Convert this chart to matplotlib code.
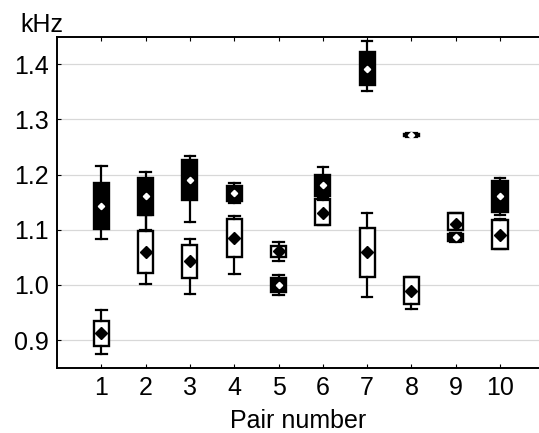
import matplotlib
matplotlib.use("Agg")
import matplotlib.pyplot as plt

plt.rcParams['font.family'] = ['Liberation Sans', 'DejaVu Sans']

pairs = [1, 2, 3, 4, 5, 6, 7, 8, 9, 10]

# filled (black) boxes: whisker low, q1, q3, whisker high, mean
dark_lo = [1.084, 1.100, 1.114, 1.148, 0.981, 1.154, 1.352, 1.269, 1.078, 1.126]
dark_q1 = [1.102, 1.127, 1.154, 1.152, 0.987, 1.161, 1.362, 1.270, 1.079, 1.132]
dark_q3 = [1.184, 1.193, 1.226, 1.180, 1.012, 1.200, 1.423, 1.274, 1.093, 1.188]
dark_hi = [1.215, 1.205, 1.234, 1.185, 1.018, 1.214, 1.443, 1.275, 1.094, 1.194]
dark_mean = [1.143, 1.161, 1.190, 1.167, 0.999, 1.181, 1.391, 1.272, 1.086, 1.161]

# open (white) boxes
open_lo = [0.874, 1.001, 0.983, 1.019, 1.044, 1.108, 0.979, 0.957, 1.099, 1.066]
open_q1 = [0.889, 1.022, 1.013, 1.051, 1.051, 1.108, 1.014, 0.966, 1.099, 1.066]
open_q3 = [0.935, 1.098, 1.073, 1.119, 1.071, 1.155, 1.103, 1.014, 1.130, 1.117]
open_hi = [0.954, 1.127, 1.083, 1.125, 1.077, 1.160, 1.131, 1.014, 1.131, 1.120]
open_mean = [0.912, 1.059, 1.044, 1.085, 1.062, 1.131, 1.059, 0.989, 1.111, 1.091]

yticks = [0.9, 1.0, 1.1, 1.2, 1.3, 1.4]


def make_stats(lo, q1, q3, hi, mean):
    stats = []
    for i in range(len(lo)):
        stats.append(dict(whislo=lo[i], q1=q1[i], q3=q3[i], whishi=hi[i],
                          med=mean[i], mean=mean[i], fliers=[]))
    return stats


fig = plt.figure(figsize=(5.39, 4.33), dpi=100)
ax = fig.add_axes([0.1058, 0.1508, 0.8942, 0.7645])

for y in yticks:
    ax.axhline(y, color='#d8d8d8', lw=0.9, zorder=0)

line = dict(color='black', linewidth=1.6)

ax.bxp(make_stats(open_lo, open_q1, open_q3, open_hi, open_mean),
       positions=pairs, widths=0.34, capwidths=0.24, patch_artist=True,
       showmeans=True,
       boxprops=dict(facecolor='white', edgecolor='black', linewidth=1.7),
       whiskerprops=line, capprops=line, medianprops=dict(linewidth=0),
       meanprops=dict(marker='D', markerfacecolor='black',
                      markeredgecolor='black', markersize=6.3),
       zorder=3)

ax.bxp(make_stats(dark_lo, dark_q1, dark_q3, dark_hi, dark_mean),
       positions=pairs, widths=0.34, capwidths=0.24, patch_artist=True,
       showmeans=True,
       boxprops=dict(facecolor='black', edgecolor='black', linewidth=1.7),
       whiskerprops=line, capprops=line, medianprops=dict(linewidth=0),
       meanprops=dict(marker='D', markerfacecolor='white',
                      markeredgecolor='white', markersize=3.2),
       zorder=4)

ax.set_xlim(0, 10.88)
ax.set_ylim(0.85, 1.45)
ax.set_xticks(pairs)
ax.set_xticklabels([str(p) for p in pairs])
ax.set_yticks(yticks)
ax.set_yticklabels(['0.9', '1.0', '1.1', '1.2', '1.3', '1.4'])
ax.tick_params(direction='in', length=3, width=0.8, labelsize=18, pad=6,
               top=True, bottom=True, left=True, right=False)
ax.spines['right'].set_visible(False)
for s in ['left', 'top', 'bottom']:
    ax.spines[s].set_linewidth(1.4)

ax.set_xlabel('Pair number', fontsize=18, labelpad=6.5)
fig.text(0.037, 0.927, 'kHz', fontsize=18, ha='left', va='baseline')

fig.savefig('out.png', dpi=100)
